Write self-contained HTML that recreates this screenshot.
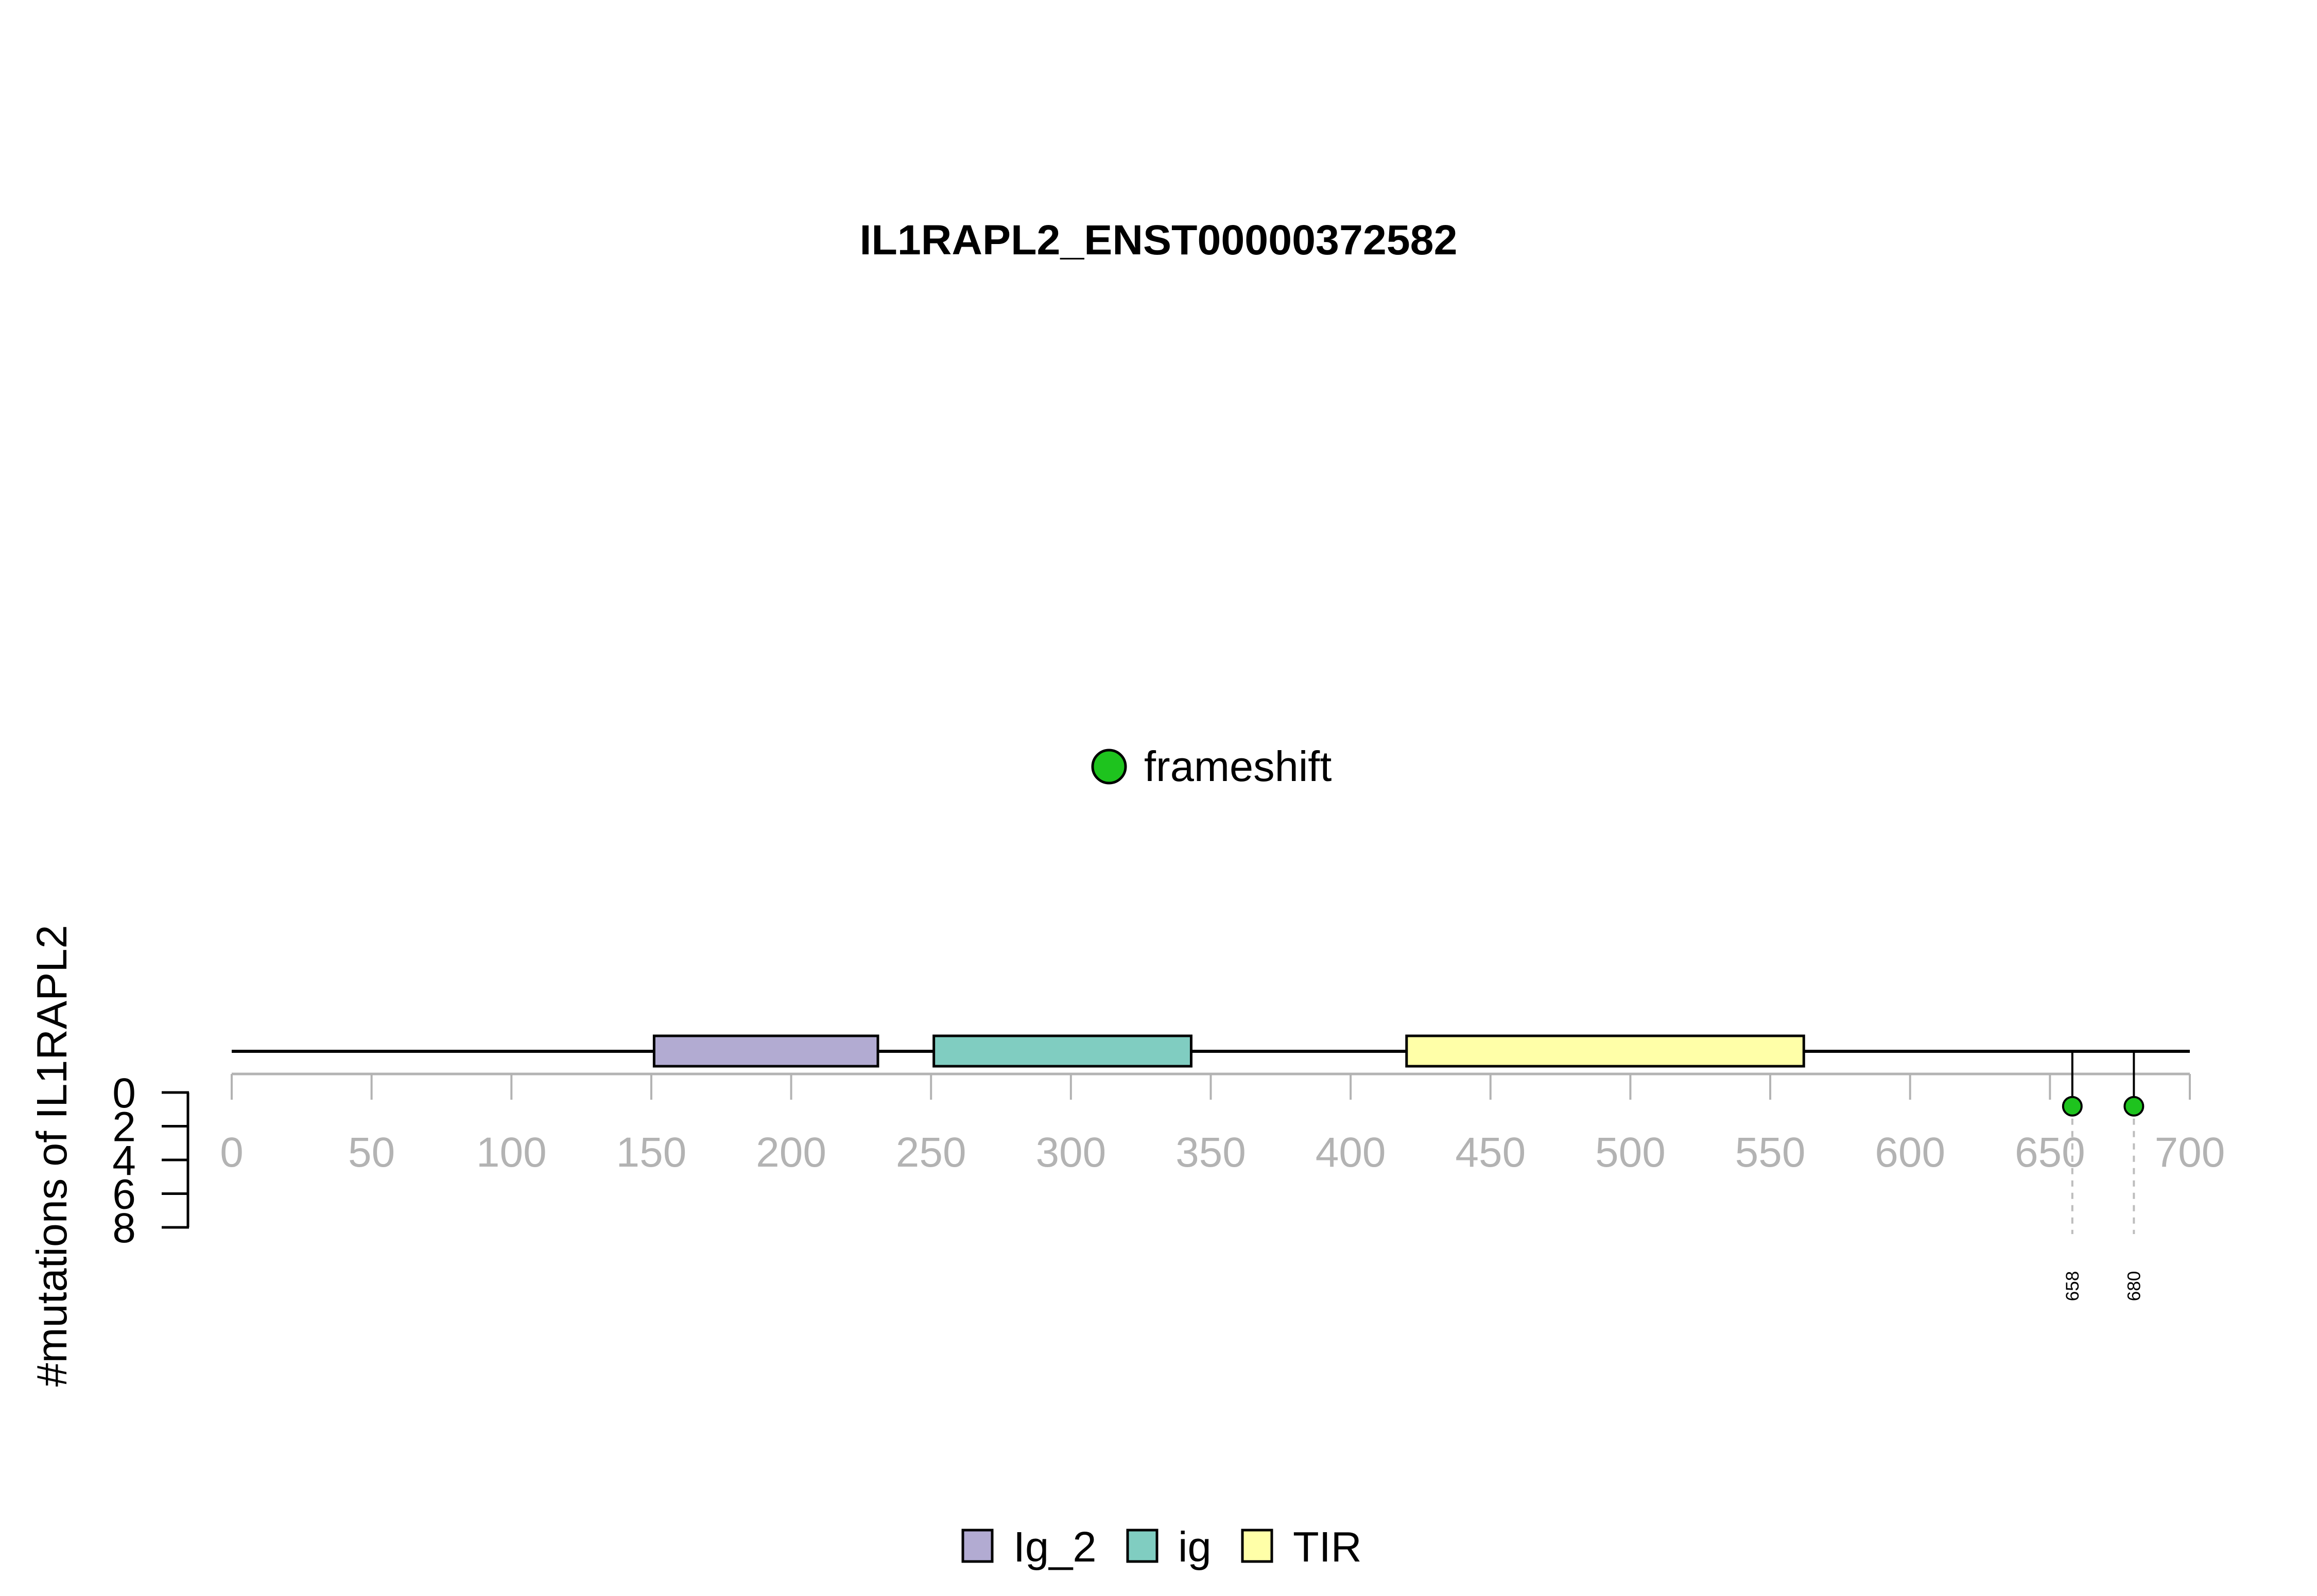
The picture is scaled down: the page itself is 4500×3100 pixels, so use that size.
<!DOCTYPE html>
<html><head><meta charset="utf-8"><style>
html,body{margin:0;padding:0;background:#fff;}
svg{display:block;font-family:"Liberation Sans",Arial,sans-serif;}
</style></head><body>
<svg id="chart" width="4500" height="3100" viewBox="0 0 4500 3100" xmlns="http://www.w3.org/2000/svg">
<rect width="4500" height="3100" fill="#fff"/>
<text x="2250" y="494" text-anchor="middle" font-size="82" font-weight="bold" textLength="1161" lengthAdjust="spacingAndGlyphs">IL1RAPL2_ENST00000372582</text>
<g>
<circle cx="2154" cy="1489" r="32" fill="#1ec31e" stroke="#000" stroke-width="5"/>
<text x="2222" y="1517" font-size="83">frameshift</text>
</g>
<text transform="translate(129,2245) rotate(-90)" text-anchor="middle" font-size="83" textLength="897" lengthAdjust="spacingAndGlyphs">#mutations of IL1RAPL2</text>
<g id="yaxis"></g>
<g id="xaxis"></g>
<line x1="450" y1="2042" x2="4253" y2="2042" stroke="#000" stroke-width="6"/>
<g id="domains"></g>
<g id="muts"></g>
<g id="legend"></g>
</svg>
<script>
const xTicks = [0,50,100,150,200,250,300,350,400,450,500,550,600,650,700];
const yTicks = [0,2,4,6,8];
const domainNames = ["Ig_2","ig","TIR"];
const domainStarts = [151,251,420];
const domainEnds = [231,343,562];
const domainColors = ["#b2abd2","#80cdc1","#ffffa8"];
const mutPositions = [658,680];
const mutCounts = [1,1];
const NS = "http://www.w3.org/2000/svg";
const x = v => 450 + v * (3803 / 700);
const y = c => 2122 + c * (262 / 8);
function mk(tag, attrs, parent, txt) {
  const e = document.createElementNS(NS, tag);
  for (const k in attrs) e.setAttribute(k, attrs[k]);
  if (txt !== undefined) e.textContent = txt;
  parent.appendChild(e);
  return e;
}
const xa = document.getElementById('xaxis');
const axl = mk('line', {x1: x(0), y1: 2086, x2: x(700), y2: 2086, stroke: '#b3b3b3', 'stroke-width': 5}, xa);


xTicks.forEach(t => {
  const l = mk('line', {x1: x(t), y1: 2086, x2: x(t), y2: 2136, stroke: '#b3b3b3', 'stroke-width': 4}, xa);
  
  
  const tx = mk('text', {x: x(t), y: 2266, 'text-anchor': 'middle', 'font-size': 82, fill: '#b3b3b3'}, xa, String(t));
  
  
});
const ya = document.getElementById('yaxis');
const yl = mk('line', {x1: 365, y1: y(0), x2: 365, y2: y(8), stroke: '#000', 'stroke-width': 5}, ya);


yTicks.forEach(t => {
  const l = mk('line', {x1: 314, y1: y(t), x2: 367, y2: y(t), stroke: '#000', 'stroke-width': 5}, ya);
  
  
  const tx = mk('text', {x: 241, y: y(t) + 29, 'text-anchor': 'middle', 'font-size': 82}, ya, String(t));
  
  
});
const dg = document.getElementById('domains');
domainNames.forEach((n, i) => {
  const r = mk('rect', {x: x(domainStarts[i]), y: 2012, width: x(domainEnds[i]) - x(domainStarts[i]), height: 59, fill: domainColors[i], stroke: '#000', 'stroke-width': 5}, dg);
  
  
});
const mg = document.getElementById('muts');
mutPositions.forEach((p, i) => {
  const cy = y(mutCounts[i]) - 6;
  const d = mk('line', {x1: x(p), y1: cy, x2: x(p), y2: 2397, stroke: '#bdbdbd', 'stroke-width': 4, 'stroke-dasharray': '12,12'}, mg);
  
  
  const s = mk('line', {x1: x(p), y1: 2042, x2: x(p), y2: cy, stroke: '#000', 'stroke-width': 4}, mg);
  
  
  const c = mk('circle', {cx: x(p), cy: cy, r: 18, fill: '#1ec31e', stroke: '#000', 'stroke-width': 4}, mg);
  
  
  const t = mk('text', {transform: 'translate(' + (x(p) + 12) + ',2498) rotate(-90)', 'text-anchor': 'middle', 'font-size': 35}, mg, String(p));
  
  
});
const lg = document.getElementById('legend');
const lgBoxX = [1870, 2190, 2413];
domainNames.forEach((n, i) => {
  const r = mk('rect', {x: lgBoxX[i], y: 2972, width: 57, height: 61, fill: domainColors[i], stroke: '#000', 'stroke-width': 5}, lg);
  
  
  const t = mk('text', {x: lgBoxX[i] + 98, y: 3033, 'font-size': 83}, lg, n);
  
  
});
</script>
</body></html>
